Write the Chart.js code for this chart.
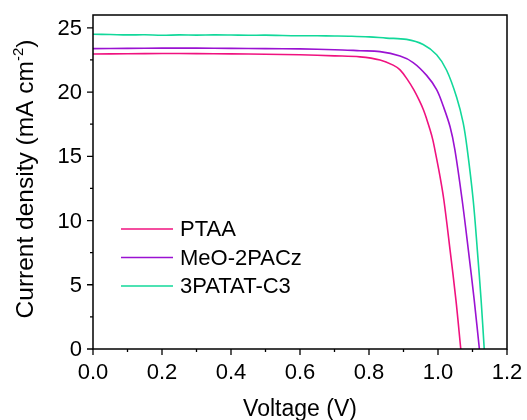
<!DOCTYPE html>
<html>
<head>
<meta charset="utf-8">
<script src="https://cdn.jsdelivr.net/npm/chart.js@4/dist/chart.umd.min.js"></script>
<style>
  html, body { margin:0; padding:0; background:#fff; }
  #wrap { width:527px; height:420px; position:relative; }
</style>
</head>
<body>
<div id="wrap"><canvas id="jv"></canvas></div>
<script>
// ====== data ======
const seriesNames  = ["PTAA", "MeO-2PACz", "3PATAT-C3"];
const seriesColors = ["#f0127f", "#9a12d2", "#12d89a"];

const ptaaV = [0,0.1,0.2,0.3,0.4,0.5,0.6,0.7,0.774,0.832,0.87,0.89,0.912,0.930,0.945,0.958,0.968,0.977,0.985,0.991,1.005,1.017,1.035,1.052,1.066];
const ptaaJ = [22.96,22.98,23.0,22.99,22.97,22.95,22.9,22.82,22.74,22.5,22.1,21.73,20.95,20.17,19.39,18.61,17.83,17.06,16.28,15.5,13.55,11.6,7.7,3.8,0];

const meoV = [0,0.1,0.2,0.3,0.4,0.5,0.6,0.7,0.774,0.832,0.89,0.928,0.967,0.996,1.016,1.035,1.049,1.07,1.088,1.105,1.12];
const meoJ = [23.38,23.4,23.42,23.42,23.4,23.38,23.36,23.3,23.22,23.15,22.8,22.3,21.3,20.2,18.85,17.3,15.5,11.6,7.7,3.8,0];

const patV = [0,0.05,0.1,0.15,0.2,0.25,0.3,0.35,0.4,0.45,0.5,0.55,0.6,0.65,0.7,0.75,0.8,0.85,0.909,0.957,0.996,1.025,1.054,1.073,1.085,1.102,1.114,1.125,1.134];
const patJ = [24.5,24.48,24.45,24.46,24.42,24.45,24.43,24.45,24.44,24.42,24.43,24.4,24.38,24.38,24.37,24.35,24.3,24.2,24.1,23.7,22.9,21.7,19.6,17.6,15.5,11.6,7.7,3.8,0];

const xTicks      = [0,0.2,0.4,0.6,0.8,1.0,1.2];
const xTickLabels = ["0.0","0.2","0.4","0.6","0.8","1.0","1.2"];
const xMinorTicks = [0.1,0.3,0.5,0.7,0.9,1.1];
const yTicks      = [0,5,10,15,20,25];
const yTickLabels = ["0","5","10","15","20","25"];
const yMinorTicks = [2.5,7.5,12.5,17.5,22.5];

const FONT = "'Liberation Sans', Arial, sans-serif";

const pts = (vs, js) => vs.map((v,i) => ({x:v, y:js[i]}));
const allV = [ptaaV, meoV, patV];
const allJ = [ptaaJ, meoJ, patJ];

// ====== frame, ticks, titles, legend ======
const decor = {
  id: "decor",
  afterDraw(chart) {
    const {ctx, chartArea:a, scales:{x, y}} = chart;
    ctx.save();
    ctx.strokeStyle = "#000";
    ctx.lineWidth = 1.5;
    ctx.strokeRect(a.left, a.top, a.right - a.left, a.bottom - a.top);

    ctx.lineWidth = 1.3;
    ctx.beginPath();
    xTicks.forEach(v => { const p = x.getPixelForValue(v); ctx.moveTo(p, a.bottom); ctx.lineTo(p, a.bottom + 6); });
    xMinorTicks.forEach(v => { const p = x.getPixelForValue(v); ctx.moveTo(p, a.bottom); ctx.lineTo(p, a.bottom + 3); });
    yTicks.forEach(v => { const p = y.getPixelForValue(v); ctx.moveTo(a.left, p); ctx.lineTo(a.left - 6, p); });
    yMinorTicks.forEach(v => { const p = y.getPixelForValue(v); ctx.moveTo(a.left, p); ctx.lineTo(a.left - 3, p); });
    ctx.stroke();

    // tick labels
    ctx.fillStyle = "#000";
    ctx.font = "22px " + FONT;
    ctx.textBaseline = "middle";
    ctx.textAlign = "center";
    xTicks.forEach((v, i) => ctx.fillText(xTickLabels[i], x.getPixelForValue(v), 373));
    ctx.textAlign = "right";
    yTicks.forEach((v, i) => ctx.fillText(yTickLabels[i], 82, y.getPixelForValue(v) + 1));

    // axis titles
    ctx.textAlign = "center";
    ctx.textBaseline = "alphabetic";
    ctx.font = "23px " + FONT;
    ctx.fillText("Voltage (V)", (a.left + a.right) / 2, 416);

    ctx.translate(33, 179);
    ctx.rotate(-Math.PI / 2);
    const t1 = "Current density (mA cm", t2 = "-2", t3 = ")";
    ctx.font = "24.5px " + FONT;
    const w1 = ctx.measureText(t1).width, w3 = ctx.measureText(t3).width;
    ctx.font = "15px " + FONT;
    const w2 = ctx.measureText(t2).width;
    let sx = -(w1 + w2 + w3) / 2;
    ctx.textAlign = "left";
    ctx.font = "24.5px " + FONT;
    ctx.fillText(t1, sx, 0); sx += w1;
    ctx.font = "15px " + FONT;
    ctx.fillText(t2, sx, -10); sx += w2;
    ctx.font = "24.5px " + FONT;
    ctx.fillText(t3, sx, 0);
    ctx.restore();

    // legend
    ctx.save();
    ctx.font = "22px " + FONT;
    ctx.textBaseline = "middle";
    ctx.fillStyle = "#000";
    chart.data.datasets.forEach((ds, i) => {
      const ly = 229 + i * 28.5;
      ctx.strokeStyle = ds.borderColor;
      ctx.lineWidth = 1.6;
      ctx.beginPath(); ctx.moveTo(121, ly); ctx.lineTo(173, ly); ctx.stroke();
      ctx.fillText(ds.label, 180, ly + 1);
    });
    ctx.restore();
  }
};

new Chart(document.getElementById("jv"), {
  type: "line",
  data: {
    datasets: seriesNames.map((n, i) => ({
      label: n,
      data: pts(allV[i], allJ[i]),
      borderColor: seriesColors[i],
      borderWidth: 1.6,
      pointRadius: 0,
      tension: 0.35,
      fill: false
    }))
  },
  options: {
    responsive: true, maintainAspectRatio: false, animation: false,
    layout: { padding: { top: 15, right: 20, left: 0, bottom: 0 } },
    plugins: { legend: { display: false }, tooltip: { enabled: false } },
    scales: {
      x: {
        type: "linear", min: 0, max: 1.2,
        afterBuildTicks: s => { s.ticks = xTicks.map(v => ({value: v})); },
        afterFit: s => { s.height = 71; },
        ticks: { display: false },
        grid: { display: false },
        border: { display: false }
      },
      y: {
        min: 0, max: 26,
        afterBuildTicks: s => { s.ticks = yTicks.map(v => ({value: v})); },
        afterFit: s => { s.width = 93; },
        ticks: { display: false },
        grid: { display: false },
        border: { display: false }
      }
    }
  },
  plugins: [decor]
});
</script>
</body>
</html>
